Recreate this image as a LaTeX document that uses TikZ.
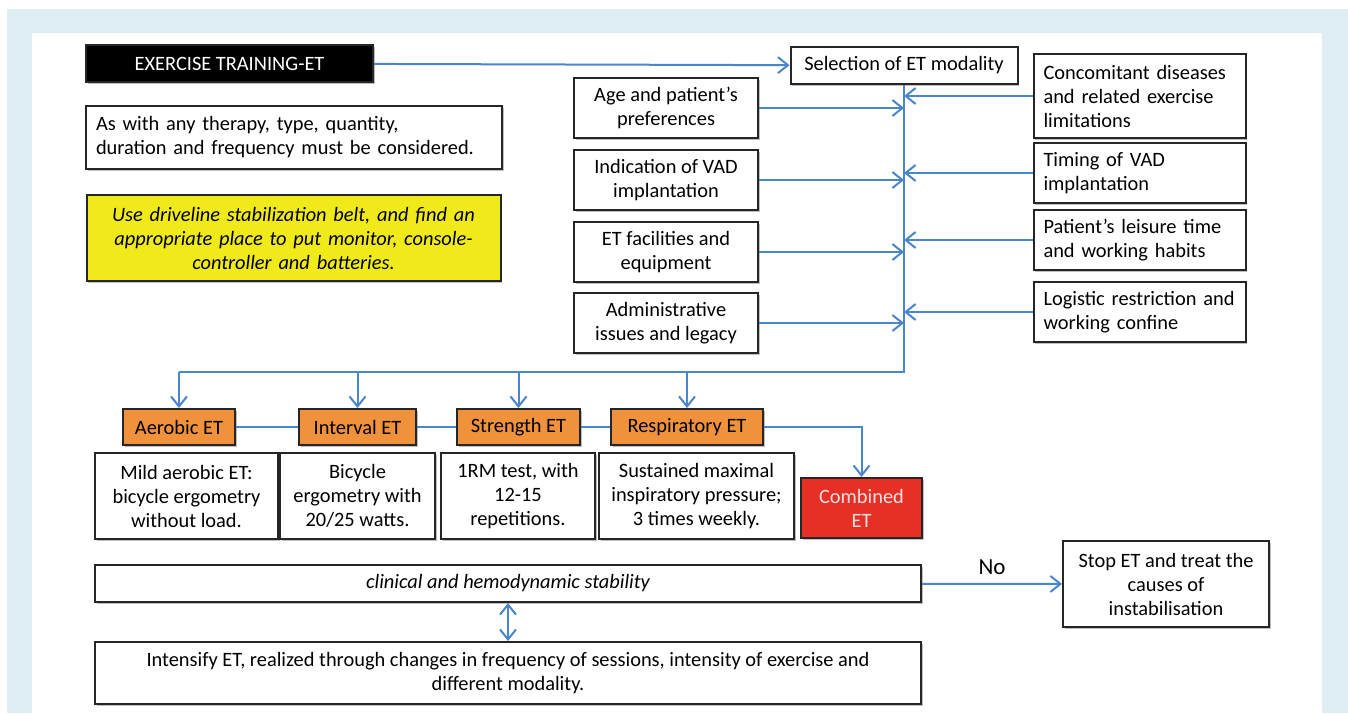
\documentclass[tikz,border=0pt]{standalone}
\usepackage{fontspec}
\setmainfont{Carlito}
\usetikzlibrary{arrows.meta, positioning, shadows}

\definecolor{lineblue}{RGB}{74,134,204}
\definecolor{etorange}{RGB}{240,146,60}
\definecolor{etred}{RGB}{230,48,38}
\definecolor{noteyellow}{RGB}{240,234,26}
\definecolor{framebg}{RGB}{222,238,243}

\begin{document}
\begin{tikzpicture}[
    x=0.5pt, y=-0.5pt,
    font=\fontsize{10.2}{12}\selectfont,
    >={Straight Barb[length=5pt,width=8pt]},
    box/.style={rectangle, draw=black!85, line width=1pt, fill=white, align=center, inner sep=2pt,
        drop shadow={shadow xshift=0.8pt, shadow yshift=-0.8pt, fill=black!50}},
    factor/.style={box, minimum width=92pt, minimum height=30pt},
    limit/.style={box, align=left, text width=96pt, inner xsep=5pt, minimum height=30pt},
    etbox/.style={box, fill=etorange, minimum height=18pt},
    descbox/.style={box, minimum height=43pt},
    arrow/.style={->, line width=1pt, draw=lineblue},
    dblarrow/.style={<->, line width=1pt, draw=lineblue},
    link/.style={line width=1pt, draw=lineblue}
]

% Frame
\useasboundingbox (0,0) rectangle (1348,713);
\fill[framebg] (7,9) rectangle (1348,713);
\fill[white] (32,33) rectangle (1322,713);

% Title and notes
\node [box, fill=black, text=white, minimum width=143.5pt, minimum height=18.5pt] (title) at (229.5,63.5) {EXERCISE TRAINING-ET};
\node [box, align=left, text width=198pt, inner xsep=5pt, minimum height=31.5pt] (therapy) at (294,137.5) {As with any therapy, type, quantity,\\duration and frequency must be considered.};
\node [box, fill=noteyellow, text width=197pt, inner xsep=5pt, minimum height=43pt, font=\fontsize{10.2}{12}\selectfont\itshape] (belt) at (293.5,238) {Use driveline stabilization belt, and find an\\appropriate place to put monitor, console-\\controller and batteries.};

% Selection
\node [box, minimum width=113.5pt, minimum height=18.5pt] (select) at (904,65.5) {Selection of ET modality};

% Factors on the left
\node [factor] (age) at (666,108) {Age and patient’s\\preferences};
\node [factor, below=5pt of age] (vad) {Indication of VAD\\implantation};
\node [factor, below=5pt of vad] (facil) {ET facilities and\\equipment};
\node [factor, below=4.5pt of facil] (admin) {Administrative\\issues and legacy};

% Factors on the right
\node [limit, minimum height=42pt] (concom) at (1139.5,96) {Concomitant diseases\\and related exercise\\limitations};
\node [limit, below=1.5pt of concom] (timing) {Timing of VAD\\implantation};
\node [limit, below=2.5pt of timing] (leisure) {Patient’s leisure time\\and working habits};
\node [limit, below=5pt of leisure] (logistic) {Logistic restriction and\\working confine};

% Modalities
\node [etbox, minimum width=56pt] (aerobic) at (179,427) {Aerobic ET};
\node [etbox, minimum width=58.5pt] (interval) at (357.5,427) {Interval ET};
\node [etbox, minimum width=61.5pt] (strength) at (518.5,427) {Strength ET};
\node [etbox, minimum width=76pt] (resp) at (687,427) {Respiratory ET};
\node [box, fill=etred, text=red!12, minimum width=60.5pt, minimum height=30pt] (combined) at (861.5,508) {Combined\\ET};

% Descriptions
\node [descbox, minimum width=91.5pt] (aerobicdesc) at (186.5,496) {Mild aerobic ET:\\bicycle ergometry\\without load.};
\node [descbox, minimum width=77.5pt, right=0pt of aerobicdesc] (intervaldesc) {Bicycle\\ergometry with\\20/25 watts.};
\node [descbox, minimum width=77pt, right=2pt of intervaldesc] (strengthdesc) {1RM test, with\\12-15\\repetitions.};
\node [descbox, minimum width=97.5pt, right=1pt of strengthdesc] (respdesc) {Sustained maximal\\inspiratory pressure;\\3 times weekly.};

% Stability
\node [box, minimum width=413pt, minimum height=18.5pt, font=\fontsize{10.2}{12}\selectfont\itshape] (stable) at (508,583.5) {clinical and hemodynamic stability};
\node [box, minimum width=103pt, minimum height=43pt] (stop) at (1166,584) {Stop ET and treat the\\causes of\\instabilisation};
\node [box, minimum width=413pt, minimum height=31pt] (intensify) at (508,673) {Intensify ET, realized through changes in frequency of sessions, intensity of exercise and\\different modality.};

% Main flow arrows
\draw [arrow] (title) -- (select);
\coordinate (split) at (179,372);
\draw [link] (select.south) |- (split);
\foreach \f in {age, vad, facil, admin}
    \draw [arrow] (\f.east) -- (\f.east -| select.south);
\foreach \f in {concom, timing, leisure, logistic}
    \draw [arrow] (\f.west) -- (\f.west -| select.south);

% Modality flows
\foreach \m in {aerobic, interval, strength, resp}
    \draw [arrow] (\m.north |- split) -- (\m.north);
\draw [link] (aerobic) -- (interval);
\draw [link] (interval) -- (strength);
\draw [link] (strength) -- (resp);
\draw [arrow] (resp.east) -| (combined.north);

% Stability check
\draw [arrow] (stable) -- node[above, font=\fontsize{11.5}{13}\selectfont, yshift=1pt] {No} (stop);
\draw [dblarrow] (stable) -- (intensify);

\end{tikzpicture}
\end{document}
